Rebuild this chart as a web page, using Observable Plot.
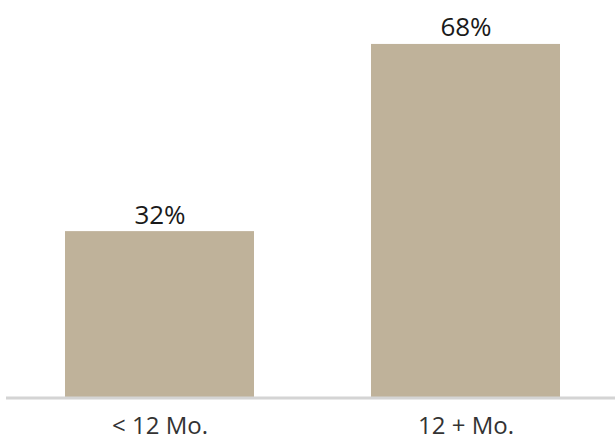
<!DOCTYPE html>
<html>
<head>
<meta charset="utf-8">
<script src="https://cdn.jsdelivr.net/npm/d3@7"></script>
<script src="https://cdn.jsdelivr.net/npm/@observablehq/plot@0.6"></script>
<style>
  html, body { margin: 0; padding: 0; background: #fff; }
  #chart svg { display: block; }
</style>
</head>
<body>
<div id="chart"></div>
<script>
const categories = ["< 12 Mo.", "12 + Mo."];
const values = [32, 68];
const valueLabels = ["32%", "68%"];

const data = categories.map((c, i) => ({ cat: c, value: values[i], label: valueLabels[i] }));

const chart = Plot.plot({
  width: 615,
  height: 441,
  marginTop: 0,
  marginBottom: 43,
  marginLeft: 6,
  marginRight: 0,
  style: { fontFamily: "'Open Sans', sans-serif", background: "#fff" },
  x: { domain: categories, range: [6, 619], paddingInner: 0.381, paddingOuter: 0.189, label: null },
  y: { domain: [0, 76.45], range: [397.5, 0], axis: null },
  marks: [
    Plot.barY(data, { x: "cat", y: "value", fill: "#BFB29A" }),
    Plot.ruleY([0], { stroke: "#d4d4d4", strokeWidth: 3 }),
    Plot.text(data, { x: "cat", y: "value", text: "label", lineAnchor: "bottom", dy: -8, fontSize: 26, fill: "#1a1a1a" }),
    Plot.axisX({ tickSize: 0, tickPadding: 18, fontSize: 24, fill: "#333", label: null })
  ]
});
document.getElementById("chart").appendChild(chart);
</script>
</body>
</html>
